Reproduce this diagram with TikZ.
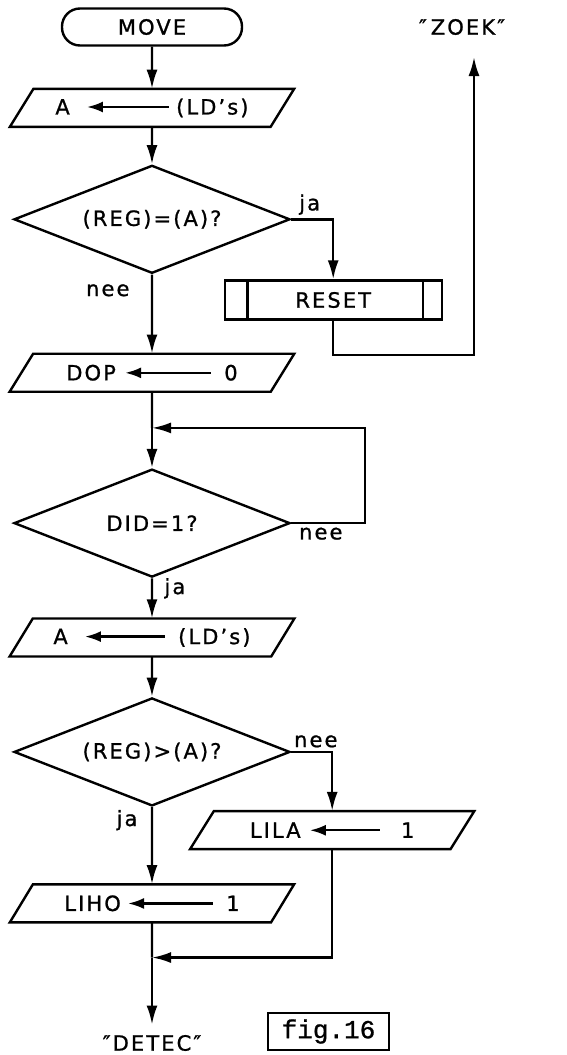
\documentclass[tikz,border=0pt]{standalone}
\usepackage{fontspec}
\setmainfont{DejaVu Sans}[LetterSpace=10, FakeBold=1]
\newfontfamily\figfont{Liberation Mono}[FakeBold=1]
\usetikzlibrary{shapes.geometric,arrows.meta,positioning}

% short assignment arrow inside the io boxes
\newcommand{\getsarrow}[1]{\tikz[baseline=0pt]\draw[line width=2.4pt,{Latex[length=16pt,width=11pt]}-] (0pt,7.5pt) -- (#1,7.5pt);}

\begin{document}
\begin{tikzpicture}[
    x=1pt, y=1pt,
    line width=2.4pt,
    font=\fontsize{21}{25}\selectfont,
    terminal/.style={rectangle, draw, rounded corners=18pt, minimum width=180pt, minimum height=37pt},
    io/.style={trapezium, trapezium left angle=52, trapezium right angle=128, trapezium stretches=true, draw, minimum width=285pt, minimum height=38pt},
    decision/.style={diamond, draw, aspect=2.5, minimum width=276pt, minimum height=108pt, inner sep=1pt},
    subroutine/.style={rectangle, draw, minimum width=217pt, minimum height=39pt},
    arrow/.style={-{Latex[length=19pt,width=11pt]}}
]
    \useasboundingbox (0,0) rectangle (566,-1055);

    \node[terminal] (move) at (152,-27) {MOVE};
    \node[io, below=42pt of move] (readA) {A\hspace{16pt}\getsarrow{82pt}\hspace{6pt}(LD's)};
    \node[decision, below=37pt of readA] (regeq) {(REG)=(A)?};
    \node[io, below=79pt of regeq] (dop) {DOP\hspace{8pt}\getsarrow{86pt}\hspace{12pt}0\hspace{10pt}};
    \coordinate[below=36pt of dop] (loopin);
    \node[decision, below=40pt of loopin] (didq) {DID=1?};
    \node[io, below=40pt of didq] (readB) {A\hspace{16pt}\getsarrow{80pt}\hspace{12pt}(LD's)};
    \node[decision, below=40pt of readB] (reggt) {(REG)>(A)?};
    \node[io, below=77pt of reggt] (liho) {LIHO\hspace{6pt}\getsarrow{85pt}\hspace{12pt}1};
    \coordinate[below=35pt of liho] (merge);
    \node[below=108pt of liho] (detec) {″DETEC″};

    % side branches
    \coordinate[right=42pt of regeq.east] (jaturn);
    \node[subroutine, below=60pt of jaturn] (reset) {RESET};
    \draw ([xshift=24pt]reset.north west) -- ([xshift=24pt]reset.south west);
    \draw ([xshift=-20pt]reset.north east) -- ([xshift=-20pt]reset.south east);
    \node (zoek) at (462,-27) {″\hspace{4pt}ZOEK″};
    \coordinate (zoekin) at (474,-57);
    \coordinate[right=41pt of reggt.east] (neeturn);
    \node[io, below=59pt of neeturn] (lila) {LILA\hspace{8pt}\getsarrow{70pt}\hspace{20pt}1};

    \node[draw, font=\figfont\fontsize{26}{30}\selectfont, minimum width=121pt, minimum height=37pt] (figno) at (328.5,-1031.5) {fig.16};

    \draw[arrow] (move) -- (readA);
    \draw[arrow] (readA) -- (regeq);
    \draw[arrow] (regeq.east) -| node[pos=0.22, above] {ja} (reset);
    \draw[arrow] (regeq) -- node[pos=0.2, left=18pt] {nee} (dop);
    \draw[arrow] (reset.south) -- ++(0,-34) -| (zoekin);
    \draw (dop) -- (loopin);
    \draw[arrow] (loopin) -- (didq);
    \draw[arrow] (didq.east) -- node[below, pos=0.4] {nee} ++(74,0) |- (loopin);
    \draw[arrow] (didq) -- node[pos=0.25, right=8pt] {ja} (readB);
    \draw[arrow] (readB) -- (reggt);
    \draw[arrow] (reggt.east) -| node[pos=0.3, above] {nee} (lila);
    \draw[arrow] (reggt) -- node[pos=0.17, left=10pt] {ja} (liho);
    \draw (liho) -- (merge);
    \draw[arrow] (lila) |- (merge);
    \draw[arrow, shorten >=6pt] (merge) -- (detec);
\end{tikzpicture}
\end{document}
